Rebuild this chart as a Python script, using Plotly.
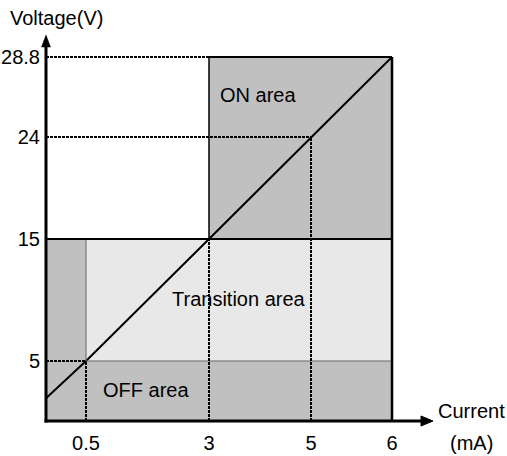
import numpy as np
import plotly.graph_objects as go

# ---- data ----
current_ticks = [0.5, 3, 5, 6]          # mA
voltage_ticks = [5, 15, 24, 28.8]       # V
current_tick_labels = ["0.5", "3", "5", "6"]
voltage_tick_labels = ["5", "15", "24", "28.8"]
diag_current = [0, 0.5, 3, 5, 6]
diag_voltage = [1.9, 5, 15, 24, 28.8]

# ---- schematic (piecewise) scale: value -> display units ----
X_KNOTS_V = [0, 0.5, 3, 5, 6]
X_KNOTS_D = [0, 40, 163, 265, 346]
Y_KNOTS_V = [0, 5, 15, 24, 28.8]
Y_KNOTS_D = [0, 60, 182, 284, 364]

XR = [-5, 400]
YR = [-8, 401]

def sx(v):
    return float(np.interp(v, X_KNOTS_V, X_KNOTS_D))

def sy(v):
    return float(np.interp(v, Y_KNOTS_V, Y_KNOTS_D))

def px(d):
    return (d - XR[0]) / (XR[1] - XR[0])

def py(d):
    return (d - YR[0]) / (YR[1] - YR[0])

DARK = "#c0c0c0"
LIGHT = "#e8e8e8"
FONT = "Liberation Sans, Arial, sans-serif"
FS = 20

shapes = []

def rect(x0, x1, y0, y1, color):
    shapes.append(dict(type="rect", xref="x", yref="y",
                       x0=sx(x0), x1=sx(x1), y0=sy(y0), y1=sy(y1),
                       fillcolor=color, line=dict(width=0), layer="below"))

def seg(x0, y0, x1, y1, color="black", width=2, dash="solid"):
    shapes.append(dict(type="line", xref="x", yref="y",
                       x0=sx(x0), y0=sy(y0), x1=sx(x1), y1=sy(y1),
                       line=dict(color=color, width=width, dash=dash)))

# fills
rect(3, 6, 15, 28.8, DARK)
rect(0, 0.5, 0, 15, DARK)
rect(0.5, 6, 0, 5, DARK)
rect(0.5, 6, 5, 15, LIGHT)

DOT = "3px,1px"
# thin gray borders of transition area
seg(0.5, 5, 0.5, 15, color="#666666", width=1)
seg(0.5, 5, 6, 5, color="#666666", width=1)
# dotted guide lines
seg(0, 28.8, 3, 28.8, width=2, dash=DOT)
seg(0, 24, 5, 24, width=2, dash=DOT)
seg(5, 0, 5, 24, width=2, dash=DOT)
seg(3, 0, 3, 15, width=2, dash=DOT)
seg(0.5, 0, 0.5, 5, width=2, dash=DOT)
seg(0, 5, 0.5, 5, width=2, dash=DOT)
# solid borders
seg(0, 15, 6, 15, width=2)
seg(3, 15, 3, 28.8, width=1.5)
seg(3, 28.8, 6, 28.8, width=2)
seg(6, 0, 6, 28.8, width=2.5)

# axes
AX_END_X = 377
AX_END_Y = 376
shapes.append(dict(type="line", xref="x", yref="y", x0=-1.5, y0=0, x1=AX_END_X, y1=0,
                   line=dict(color="black", width=3)))
shapes.append(dict(type="line", xref="x", yref="y", x0=0, y0=-1.5, x1=0, y1=AX_END_Y,
                   line=dict(color="black", width=3)))
shapes.append(dict(type="path", xref="x", yref="y",
                   path=f"M {AX_END_X-2},-5 L 387,0 L {AX_END_X-2},5 Z",
                   fillcolor="black", line=dict(color="black", width=1)))
shapes.append(dict(type="path", xref="x", yref="y",
                   path=f"M -4.5,{AX_END_Y-2} L 0,386 L 4.5,{AX_END_Y-2} Z",
                   fillcolor="black", line=dict(color="black", width=0.5)))

fig = go.Figure()
fig.add_trace(go.Scatter(
    x=[sx(v) for v in diag_current], y=[sy(v) for v in diag_voltage],
    mode="lines", line=dict(color="black", width=2), hoverinfo="skip",
    showlegend=False))

annotations = [
    dict(text="Voltage(V)", x=px(10), y=py(403), xref="paper", yref="paper"),
    dict(text="Current", x=px(425), y=py(10), xref="paper", yref="paper"),
    dict(text="(mA)", x=px(425), y=py(-22), xref="paper", yref="paper"),
    dict(text="ON area", x=sx(3.96), y=sy(26.5), xref="x", yref="y"),
    dict(text="Transition area", x=sx(3.59), y=sy(10.1), xref="x", yref="y"),
    dict(text="OFF area", x=sx(1.72), y=sy(2.6), xref="x", yref="y"),
]
for a in annotations:
    a["showarrow"] = False
    a["font"] = dict(family=FONT, size=FS, color="black")
    a["xanchor"] = "center"
    a["yanchor"] = "middle"

fig.update_layout(
    width=507, height=456,
    margin=dict(l=41, r=61, t=20, b=27, autoexpand=False),
    paper_bgcolor="white", plot_bgcolor="white",
    shapes=shapes, annotations=annotations,
    showlegend=False,
    font=dict(family=FONT, size=FS, color="black"),
    xaxis=dict(range=XR, showgrid=False, zeroline=False, showline=False,
               tickvals=[sx(v) for v in current_ticks], ticktext=current_tick_labels,
               ticks="", fixedrange=True, automargin=False,
               tickfont=dict(family=FONT, size=FS, color="black")),
    yaxis=dict(range=YR, showgrid=False, zeroline=False, showline=False,
               tickvals=[sy(v) for v in voltage_ticks], ticktext=voltage_tick_labels,
               ticks="", fixedrange=True, automargin=False,
               tickfont=dict(family=FONT, size=FS, color="black")),
)

fig.write_html("out.html", config={"displayModeBar": False},
               post_script="document.body.style.margin='0';document.body.style.padding='0';")
